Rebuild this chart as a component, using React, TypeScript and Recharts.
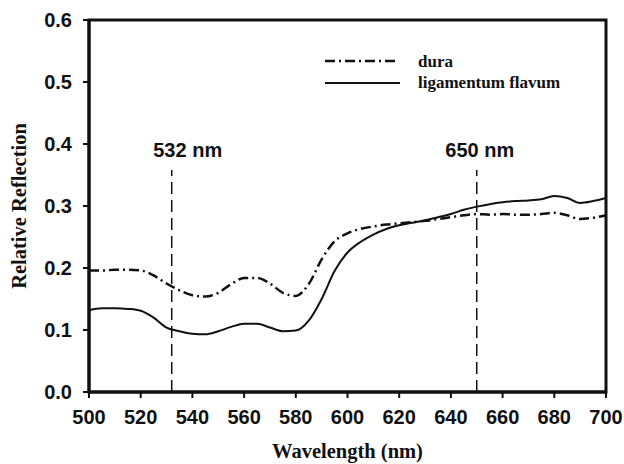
import React from 'react';
import {
  LineChart,
  Line,
  XAxis,
  YAxis,
  ReferenceLine,
  ReferenceArea,
  Legend,
} from 'recharts';

const wavelengths = [
  500, 505, 510, 515, 520, 525, 530, 535, 540, 545, 550, 555, 560, 565, 570, 575, 580, 585, 590, 595,
  600, 605, 610, 615, 620, 625, 630, 635, 640, 645, 650, 655, 660, 665, 670, 675, 680, 685, 690, 695, 700,
];

const dura = [
  0.196, 0.196, 0.197, 0.197, 0.196, 0.188, 0.175, 0.164, 0.156, 0.154, 0.16, 0.174, 0.184, 0.184, 0.175,
  0.16, 0.155, 0.174, 0.214, 0.243, 0.256, 0.263, 0.267, 0.27, 0.272, 0.274, 0.276, 0.279, 0.282, 0.285,
  0.287, 0.286, 0.287, 0.286, 0.286, 0.287, 0.289, 0.285, 0.279, 0.281, 0.285,
];

const ligamentum = [
  0.132, 0.135, 0.135, 0.134, 0.131, 0.12, 0.104, 0.098, 0.094, 0.093, 0.098, 0.105, 0.11, 0.11, 0.104,
  0.098, 0.099, 0.115, 0.15, 0.195, 0.225, 0.242, 0.254, 0.263, 0.269, 0.273, 0.277, 0.282, 0.287, 0.294,
  0.299, 0.303, 0.306, 0.308, 0.309, 0.311, 0.316, 0.313, 0.305, 0.308, 0.313,
];

const xTicks = [500, 520, 540, 560, 580, 600, 620, 640, 660, 680, 700];
const yTicks = [0, 0.1, 0.2, 0.3, 0.4, 0.5, 0.6];

const markers = [
  { nm: 532, label: '532 nm', dx: 16 },
  { nm: 650, label: '650 nm', dx: 3 },
];
const markerTop = 0.358;

const data = wavelengths.map((w, i) => ({ w, dura: dura[i], lig: ligamentum[i] }));

const sans = '"Liberation Sans", Arial, sans-serif';
const serif = '"Liberation Serif", "Times New Roman", serif';

const LegendBox = () => (
  <svg width={280} height={50} style={{ display: 'block' }}>
    <line x1={0} y1={8} x2={70} y2={8} stroke="#111" strokeWidth={2.5} strokeDasharray="10 4 2 4" />
    <text x={93} y={14} fontFamily={serif} fontWeight="bold" fontSize={17} fill="#111">dura</text>
    <line x1={0} y1={30} x2={75} y2={30} stroke="#111" strokeWidth={2} />
    <text x={93} y={35} fontFamily={serif} fontWeight="bold" fontSize={17} fill="#111">ligamentum flavum</text>
  </svg>
);

const App = () => {
  return (
    <div style={{ position: 'absolute', left: 0, top: 0, background: '#fff' }}>
      <LineChart width={624} height={464} data={data} margin={{ top: 20, right: 18, left: 0, bottom: 0 }}>
        <XAxis
          dataKey="w"
          type="number"
          domain={[500, 700]}
          ticks={xTicks}
          interval={0}
          height={72}
          axisLine={{ stroke: '#111', strokeWidth: 3 }}
          tickLine={{ stroke: '#111', strokeWidth: 2 }}
          tickSize={6}
          tickMargin={12}
          tick={{ fill: '#111', fontFamily: sans, fontWeight: 'bold', fontSize: 20 }}
          label={{
            value: 'Wavelength (nm)',
            position: 'insideBottom',
            offset: 6,
            fill: '#111',
            fontFamily: serif,
            fontWeight: 'bold',
            fontSize: 20.5,
          }}
        />
        <YAxis
          type="number"
          domain={[0, 0.6]}
          ticks={yTicks}
          interval={0}
          width={89}
          axisLine={{ stroke: '#111', strokeWidth: 3 }}
          tickLine={{ stroke: '#111', strokeWidth: 2 }}
          tickSize={6}
          tickMargin={11}
          tickFormatter={(v: number) => v.toFixed(1)}
          tick={{ fill: '#111', fontFamily: sans, fontWeight: 'bold', fontSize: 20 }}
          label={{
            value: 'Relative Reflection',
            angle: -90,
            position: 'insideLeft',
            offset: 19,
            style: { textAnchor: 'middle' },
            fill: '#111',
            fontFamily: serif,
            fontWeight: 'bold',
            fontSize: 20.5,
          }}
        />
        <ReferenceArea x1={500} x2={700} y1={0} y2={0.6} fill="none" stroke="#111" strokeWidth={3} />
        {markers.map((m) => (
          <ReferenceLine
            key={m.nm}
            segment={[
              { x: m.nm, y: 0 },
              { x: m.nm, y: markerTop },
            ]}
            stroke="#111"
            strokeWidth={1.5}
            strokeDasharray="12 6"
            label={(props: any) => {
              const vb = props.viewBox || {};
              return (
                <text
                  x={vb.x + m.dx}
                  y={vb.y - 13}
                  textAnchor="middle"
                  fontFamily={sans}
                  fontWeight="bold"
                  fontSize={20}
                  fill="#111"
                >
                  {m.label}
                </text>
              );
            }}
          />
        ))}
        <Line
          type="monotone"
          dataKey="dura"
          stroke="#111"
          strokeWidth={2.5}
          strokeDasharray="10 4 2 4"
          dot={false}
          isAnimationActive={false}
        />
        <Line
          type="monotone"
          dataKey="lig"
          stroke="#111"
          strokeWidth={2}
          dot={false}
          isAnimationActive={false}
        />
        <Legend
          layout="vertical"
          verticalAlign="middle"
          align="center"
          wrapperStyle={{ left: 325, top: 53, width: 280 }}
          content={() => <LegendBox />}
        />
      </LineChart>
    </div>
  );
};

export default App;
